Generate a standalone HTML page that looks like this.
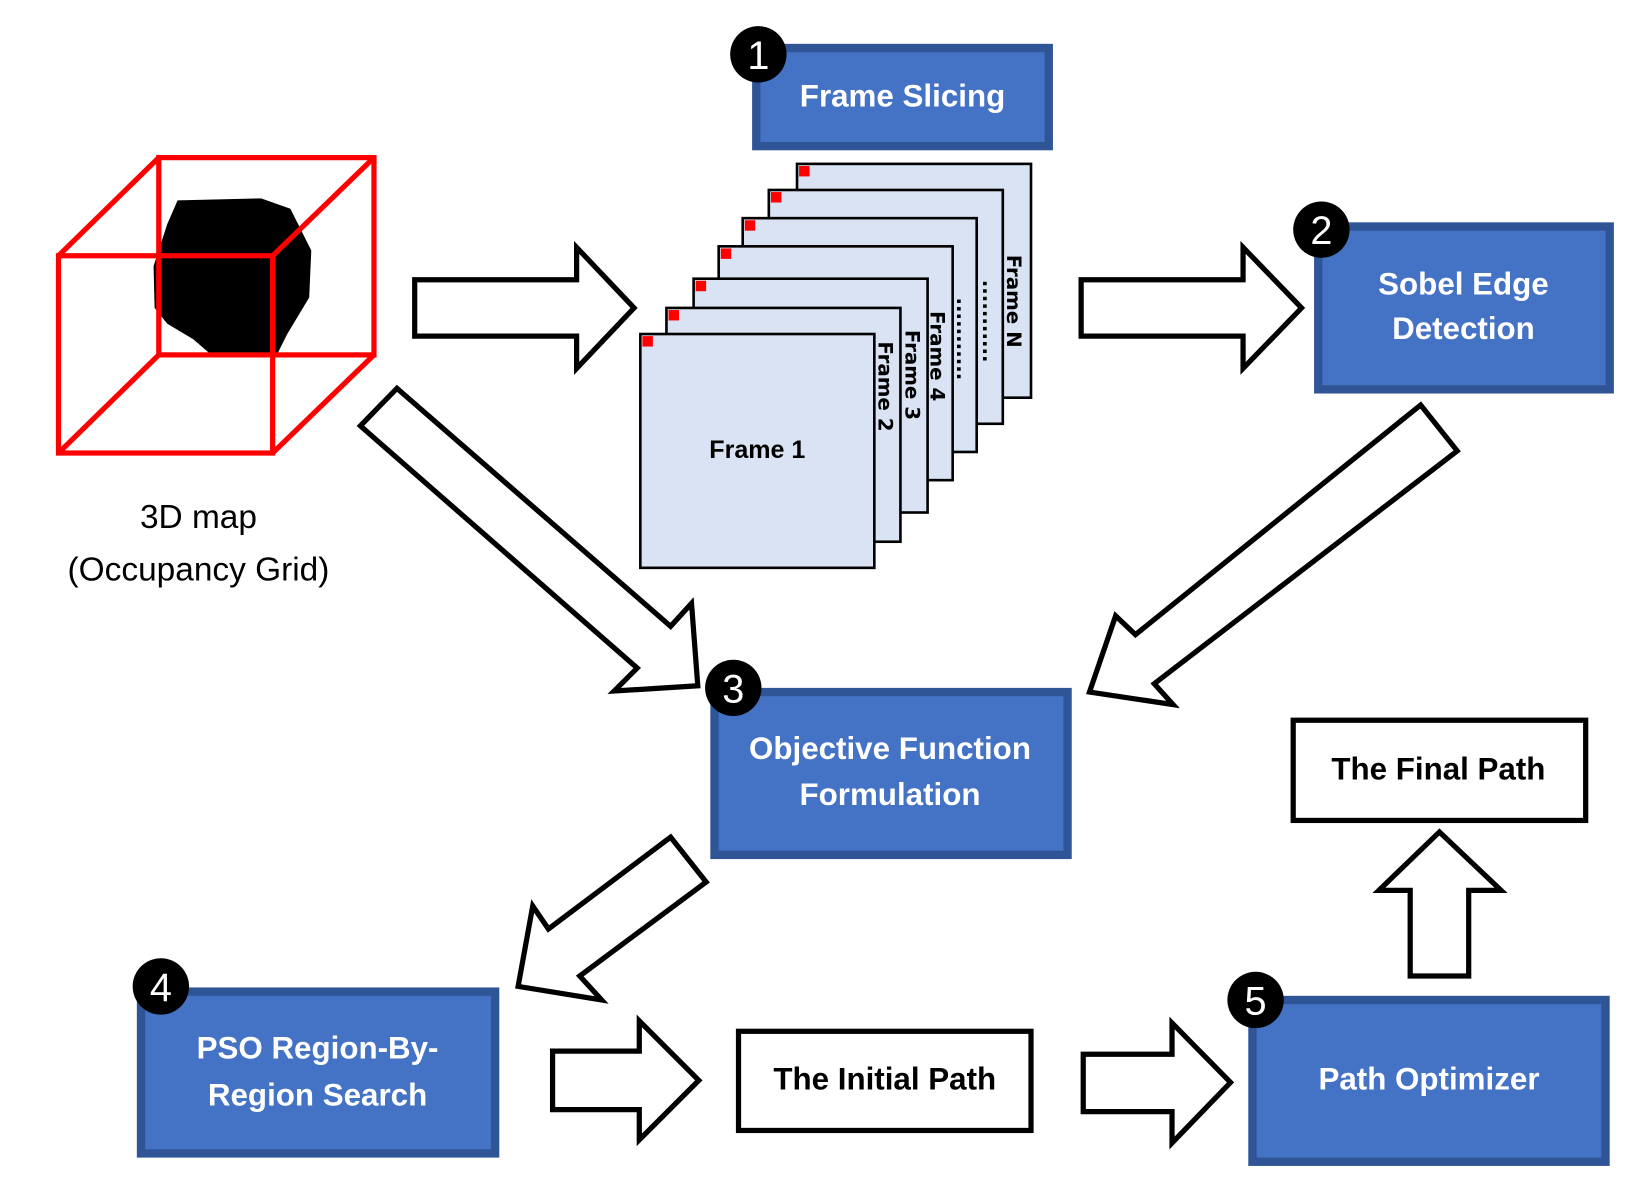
<!DOCTYPE html>
<html><head><meta charset="utf-8"><style>html,body{margin:0;padding:0;background:#fff}svg{display:block}</style></head>
<body>
<svg width="1640" height="1191" viewBox="0 0 1570 1141" preserveAspectRatio="none" xmlns="http://www.w3.org/2000/svg" font-family="'Liberation Sans', sans-serif" font-weight="bold">
<!-- cube -->
<g fill="none" stroke="#ff0000" stroke-width="5">
<path d="M170,192 L250,190 L278,200 L298,240 L296,285 L275,320 L265,340 L230,338 L200,338 L185,325 L160,310 L148,295 L147,255 L160,215 Z" fill="#000" stroke="none"/>
<rect x="56" y="245" width="205" height="189"/>
<rect x="152" y="151" width="206" height="189"/>
<line x1="56" y1="245" x2="152" y2="151"/>
<line x1="261" y1="245" x2="358" y2="151"/>
<line x1="261" y1="434" x2="358" y2="340"/>
<line x1="56" y1="434" x2="152" y2="340"/>
</g>
<text x="190" y="506" font-size="32" text-anchor="middle" font-weight="normal">3D map</text>
<text x="190" y="556" font-size="32" text-anchor="middle" font-weight="normal">(Occupancy Grid)</text>

<!-- frames -->
<g fill="#DAE3F3" stroke="#000" stroke-width="2.5">
<rect x="763" y="157" width="224" height="224"/>
<rect x="736" y="182" width="224" height="224"/>
<rect x="711" y="209" width="224" height="224"/>
<rect x="688" y="236" width="224" height="224"/>
<rect x="664" y="267" width="224" height="224"/>
<rect x="638" y="295" width="224" height="224"/>
<rect x="613" y="320" width="224" height="224"/>
</g>
<g fill="#ff0000">
<rect x="765" y="159" width="10" height="10"/><rect x="738" y="184" width="10" height="10"/>
<rect x="713" y="211" width="10" height="10"/><rect x="690" y="238" width="10" height="10"/>
<rect x="666" y="269" width="10" height="10"/><rect x="640" y="297" width="10" height="10"/>
<rect x="615" y="322" width="10" height="10"/>
</g>
<text x="725" y="439" font-size="24" text-anchor="middle">Frame 1</text>
<g font-size="19" font-family="'DejaVu Sans', sans-serif">
<text transform="translate(841,327) rotate(90)">Frame 2</text>
<text transform="translate(867,316) rotate(90)">Frame 3</text>
<text transform="translate(891,298) rotate(90)">Frame 4</text>
<text transform="translate(916,285) rotate(90)">...........</text>
<text transform="translate(941,268) rotate(90)">...........</text>
<text transform="translate(964,244) rotate(90)">Frame N</text>
</g>

<!-- arrows -->
<g fill="#fff" stroke="#000" stroke-width="5" stroke-linejoin="miter">
<polygon points="397,268 552,268 552,237 607,295 552,353 552,322 397,322"/>
<polygon points="1035,268 1190,268 1190,237 1246,295 1190,353 1190,322 1035,322"/>
<polygon points="380,372 642,600 662,578 668,657 588,662 610,640 345,408"/>
<polygon points="1360,388 1395,432 1105,655 1123,675 1043,663 1068,590 1087,608"/>
<polygon points="642,802 676,845 555,935 576,958 496,945 510,868 525,890"/>
<polygon points="529,1007 612,1007 612,978 669,1035 612,1092 612,1063 529,1063"/>
<polygon points="1037,1010 1122,1010 1122,980 1178,1037 1122,1095 1122,1065 1037,1065"/>
<polygon points="1350,935 1350,853 1320,853 1378,797 1437,853 1406,853 1406,935"/>
</g>

<!-- blue boxes -->
<g fill="#4472C4" stroke="#2F5597" stroke-width="8">
<rect x="724" y="46" width="280" height="94"/>
<rect x="1262" y="217" width="279" height="156"/>
<rect x="684" y="663" width="338" height="156"/>
<rect x="135" y="950" width="339" height="155"/>
<rect x="1199" y="958" width="338" height="155"/>
</g>
<g fill="#fff" stroke="#000" stroke-width="5">
<rect x="1238" y="690" width="280" height="96"/>
<rect x="707" y="988" width="280" height="95"/>
</g>
<g fill="#fff" font-size="30" text-anchor="middle">
<text x="864" y="102">Frame Slicing</text>
<text x="1401" y="282">Sobel Edge</text>
<text x="1401" y="325">Detection</text>
<text x="852" y="727">Objective Function</text>
<text x="852" y="771">Formulation</text>
<text x="304" y="1014">PSO Region-By-</text>
<text x="304" y="1059">Region Search</text>
<text x="1368" y="1044">Path Optimizer</text>
</g>
<g fill="#000" font-size="30" text-anchor="middle">
<text x="1377" y="747">The Final Path</text>
<text x="847" y="1044">The Initial Path</text>
</g>
<!-- numbered circles -->
<g fill="#000"><circle cx="726" cy="52" r="27"/><circle cx="1265" cy="220" r="27"/><circle cx="702" cy="659" r="27"/><circle cx="154" cy="945" r="27"/><circle cx="1202" cy="958" r="27"/></g>
<g fill="#fff" font-size="38" text-anchor="middle" font-weight="normal">
<text x="726" y="66">1</text><text x="1265" y="234">2</text><text x="702" y="673">3</text><text x="154" y="959">4</text><text x="1202" y="972">5</text>
</g>
</svg>
</body></html>
